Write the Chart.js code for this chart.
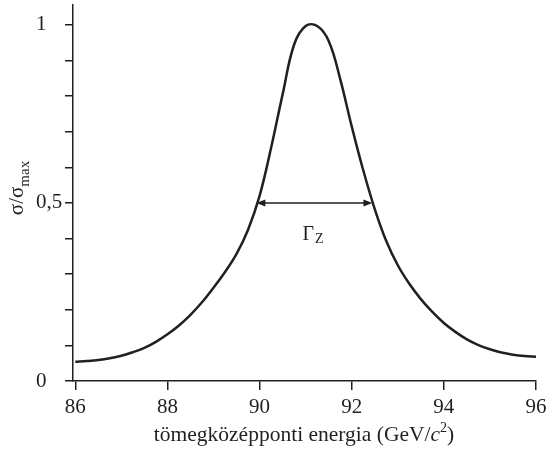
<!DOCTYPE html>
<html>
<head>
<meta charset="utf-8">
<script src="https://cdn.jsdelivr.net/npm/chart.js@4.4.1/dist/chart.umd.min.js"></script>
<style>
    html, body { margin: 0; padding: 0; background: #fff; }
    #wrap { width: 546px; height: 451px; position: relative; }
</style>
</head>
<body>
<div id="wrap"><canvas id="zChart"></canvas></div>
<script>
// -------- Datos --------
const energy = [86, 86.25, 86.5, 86.75, 87, 87.25, 87.5, 87.75, 88, 88.25, 88.5, 88.75,
    89, 89.25, 89.5, 89.75, 90, 90.25, 90.5, 90.75, 91, 91.25, 91.5, 91.75,
    92, 92.25, 92.5, 92.75, 93, 93.25, 93.5, 93.75, 94, 94.25, 94.5, 94.75,
    95, 95.25, 95.5, 95.75, 96];
const sigma = [0.054, 0.056, 0.059, 0.064, 0.071, 0.081, 0.093, 0.110, 0.131, 0.156, 0.186, 0.221,
    0.262, 0.306, 0.357, 0.425, 0.52, 0.655, 0.805, 0.945, 0.997, 0.997, 0.955, 0.848,
    0.715, 0.592, 0.483, 0.393, 0.325, 0.273, 0.230, 0.194, 0.163, 0.138, 0.117, 0.101,
    0.089, 0.080, 0.074, 0.070, 0.068];

const xTicks = [86, 88, 90, 92, 94, 96];
const yTicks = [0, 0.1, 0.2, 0.3, 0.4, 0.5, 0.6, 0.7, 0.8, 0.9, 1];
const yLabels = { 0: '0', 0.5: '0,5', 1: '1' };

// Γ_Z: félértékszélesség
const fwhmRange = [89.93, 92.45];
const halfMax = 0.5;

const INK = '#231f20';
const FONT = '"Liberation Serif", "Times New Roman", serif';

// -------- Plugin: feliratok, nyíl --------
const annotations = {
    id: 'annotations',
    afterDraw(chart) {
        const { ctx, scales: { x, y } } = chart;
        ctx.save();
        ctx.fillStyle = INK;
        ctx.strokeStyle = INK;

        // nyíl
        const x1 = x.getPixelForValue(fwhmRange[0]);
        const x2 = x.getPixelForValue(fwhmRange[1]);
        const yy = y.getPixelForValue(halfMax);
        const ah = 9, aw = 3.5;
        ctx.lineWidth = 1.5;
        ctx.beginPath();
        ctx.moveTo(x1 + ah - 1, yy);
        ctx.lineTo(x2 - ah + 1, yy);
        ctx.stroke();
        ctx.beginPath();
        ctx.moveTo(x1, yy);
        ctx.lineTo(x1 + ah, yy - aw);
        ctx.lineTo(x1 + ah, yy + aw);
        ctx.closePath();
        ctx.fill();
        ctx.beginPath();
        ctx.moveTo(x2, yy);
        ctx.lineTo(x2 - ah, yy - aw);
        ctx.lineTo(x2 - ah, yy + aw);
        ctx.closePath();
        ctx.fill();

        // Γ_Z
        const gx = (x1 + x2) / 2 - 12;
        const gy = yy + 37;
        ctx.textBaseline = 'alphabetic';
        ctx.textAlign = 'left';
        ctx.font = '20px ' + FONT;
        ctx.fillText('Γ', gx, gy);
        const gw = ctx.measureText('Γ').width;
        ctx.font = '14px ' + FONT;
        ctx.fillText('Z', gx + gw + 1, gy + 3);

        // x tengely címe
        const parts = [
            { t: 'tömegközépponti energia (GeV/', f: '21.5px ' + FONT, dy: 0 },
            { t: 'c', f: 'italic 21.5px ' + FONT, dy: 0 },
            { t: '2', f: '14px ' + FONT, dy: -9 },
            { t: ')', f: '21.5px ' + FONT, dy: 0 }
        ];
        let total = 0;
        parts.forEach(p => { ctx.font = p.f; p.w = ctx.measureText(p.t).width; total += p.w; });
        let px = 304 - total / 2;
        parts.forEach(p => {
            ctx.font = p.f;
            ctx.fillText(p.t, px, 441 + p.dy);
            px += p.w;
        });

        // y tengely címe
        ctx.translate(23, 188);
        ctx.rotate(-Math.PI / 2);
        ctx.font = '21px ' + FONT;
        const s1 = 'σ/σ';
        const w1 = ctx.measureText(s1).width;
        ctx.font = '15px ' + FONT;
        const w2 = ctx.measureText('max').width;
        let sx = -(w1 + w2) / 2;
        ctx.font = '21px ' + FONT;
        ctx.fillText(s1, sx, 0);
        ctx.font = '15px ' + FONT;
        ctx.fillText('max', sx + w1, 6);

        ctx.restore();
    }
};

new Chart(document.getElementById('zChart'), {
    type: 'line',
    data: {
        datasets: [{
            data: energy.map((e, i) => ({ x: e, y: sigma[i] })),
            borderColor: INK,
            borderWidth: 2.5,
            pointRadius: 0,
            fill: false,
            tension: 0.4
        }]
    },
    options: {
        responsive: true,
        maintainAspectRatio: false,
        animation: false,
        layout: { padding: { top: 5, right: 10, left: 36, bottom: 0 } },
        plugins: {
            legend: { display: false },
            tooltip: { enabled: false }
        },
        scales: {
            x: {
                type: 'linear',
                min: 85.95,
                max: 96,
                afterBuildTicks: s => { s.ticks = xTicks.map(v => ({ value: v })); },
                afterFit: s => { s.height = 70; s.paddingLeft = 0; s.paddingRight = 0; },
                border: { color: INK, width: 1.5 },
                grid: { drawOnChartArea: false, drawTicks: true, tickLength: 9, color: INK, lineWidth: 1.5 },
                ticks: {
                    autoSkip: false,
                    maxRotation: 0,
                    padding: 5,
                    color: INK,
                    font: { family: FONT, size: 21 },
                    callback: v => String(v)
                }
            },
            y: {
                min: 0,
                max: 1.056,
                afterBuildTicks: s => { s.ticks = yTicks.map(v => ({ value: v })); },
                afterFit: s => { s.width = 37; s.paddingTop = 0; s.paddingBottom = 0; },
                border: { color: INK, width: 1.5 },
                grid: { drawOnChartArea: false, drawTicks: true, tickLength: 8, color: INK, lineWidth: 1.5 },
                ticks: {
                    autoSkip: false,
                    padding: 2,
                    crossAlign: 'far',
                    color: INK,
                    font: { family: FONT, size: 21 },
                    callback: v => yLabels[Math.round(v * 10) / 10] ?? ''
                }
            }
        }
    },
    plugins: [annotations]
});
</script>
</body>
</html>
